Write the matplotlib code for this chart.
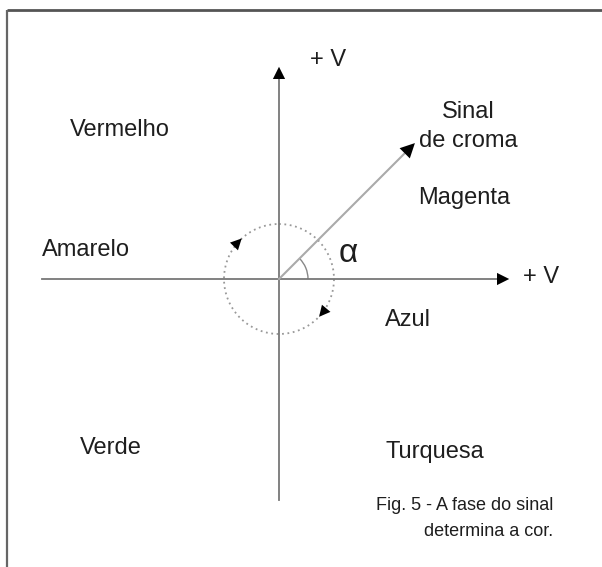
import numpy as np
import matplotlib
matplotlib.use('Agg')
import matplotlib.pyplot as plt
from matplotlib.patches import Arc, Circle

# diagram data (pixel-like coordinates, y grows downward)
ORIGIN = (279, 279)
V_AXIS = (500, 64)          # vertical axis: bottom, top
H_AXIS = (42, 512)          # horizontal axis: left, right
VECTOR_ANGLE = 45           # phase of the chroma signal, degrees
VECTOR_LEN = 195
CIRCLE_R = 55
ROT_ARROW_ANGLES = [136, -40]   # degrees, arrowheads on the dotted circle

COLOR_NAMES = ['Vermelho', 'Magenta', 'Amarelo', 'Azul', 'Verde', 'Turquesa']
COLOR_X = [70, 418, 42, 385, 80, 385]
COLOR_Y = [130, 198, 250, 320, 448, 452]

AXIS_LABELS = ['+ V', '+ V']
AXIS_LABEL_X = [310, 523]
AXIS_LABEL_Y = [60, 277]

SIGNAL_LABEL = ['Sinal', 'de croma']
CAPTION = ['Fig. 5 - A fase do sinal', 'determina a cor.']

plt.rcParams['font.family'] = ['Liberation Sans', 'DejaVu Sans']
fig = plt.figure(figsize=(6.02, 5.67), dpi=100)
ax = fig.add_axes([0, 0, 1, 1])
ax.set_xlim(0, 602)
ax.set_ylim(567, 0)
ax.axis('off')

# frame (top and left only)
ax.plot([7, 602], [10, 10], color='#555555', lw=2, solid_capstyle='butt')
ax.plot([7, 7], [10, 567], color='#666666', lw=1.6, solid_capstyle='butt')

ox, oy = ORIGIN
axc = '#777777'
txtc = '#1e1e1e'
# axes
ax.plot([ox, ox], [V_AXIS[0], V_AXIS[1] + 8], color=axc, lw=1.3)
ax.plot([H_AXIS[0], H_AXIS[1] - 8], [oy, oy], color=axc, lw=1.3)
ax.annotate('', xy=(ox, V_AXIS[1]), xytext=(ox, V_AXIS[1] + 15),
            arrowprops=dict(arrowstyle='-|>', color='black', lw=0, mutation_scale=22))
ax.annotate('', xy=(H_AXIS[1], oy), xytext=(H_AXIS[1] - 15, oy),
            arrowprops=dict(arrowstyle='-|>', color='black', lw=0, mutation_scale=22))

# chroma vector
th = np.deg2rad(VECTOR_ANGLE)
tx, ty = ox + VECTOR_LEN * np.cos(th), oy - VECTOR_LEN * np.sin(th)
ax.plot([ox, tx - 10 * np.cos(th)], [oy, ty + 10 * np.sin(th)], color='#aaaaaa', lw=1.5)
ax.annotate('', xy=(tx, ty), xytext=(tx - 16 * np.cos(th), ty + 16 * np.sin(th)),
            arrowprops=dict(arrowstyle='-|>', color='black', lw=0, mutation_scale=26))

# dotted rotation circle
ax.add_patch(Circle(ORIGIN, CIRCLE_R, fill=False, ls=(0, (1, 2)), color='#999999', lw=1.3))
for a in ROT_ARROW_ANGLES:
    r = np.deg2rad(a)
    px, py = ox + CIRCLE_R * np.cos(r), oy - CIRCLE_R * np.sin(r)
    # clockwise tangent (screen coords)
    dx, dy = np.sin(r), np.cos(r)
    ax.annotate('', xy=(px + 6 * dx, py + 6 * dy), xytext=(px - 6 * dx, py - 6 * dy),
                arrowprops=dict(arrowstyle='-|>', color='black', lw=0, mutation_scale=20))

# angle arc
ax.add_patch(Arc(ORIGIN, 58, 58, theta1=-VECTOR_ANGLE, theta2=0, color='#888888', lw=1.0))
ax.text(339, 254, '\u03b1', fontsize=24, va='center', ha='left', color=txtc)

for name, x, y in zip(COLOR_NAMES, COLOR_X, COLOR_Y):
    ax.text(x, y, name, fontsize=17, va='center', ha='left', color=txtc)
for lab, x, y in zip(AXIS_LABELS, AXIS_LABEL_X, AXIS_LABEL_Y):
    ax.text(x, y, lab, fontsize=17, va='center', ha='left', color=txtc)

ax.text(442, 112, SIGNAL_LABEL[0], fontsize=17, va='center', ha='left', color=txtc)
ax.text(419, 141, SIGNAL_LABEL[1], fontsize=17, va='center', ha='left', color=txtc)

ax.text(553, 505, CAPTION[0], fontsize=13, va='center', ha='right', color=txtc)
ax.text(553, 532, CAPTION[1], fontsize=13, va='center', ha='right', color=txtc)

fig.savefig('out.png', dpi=100)
